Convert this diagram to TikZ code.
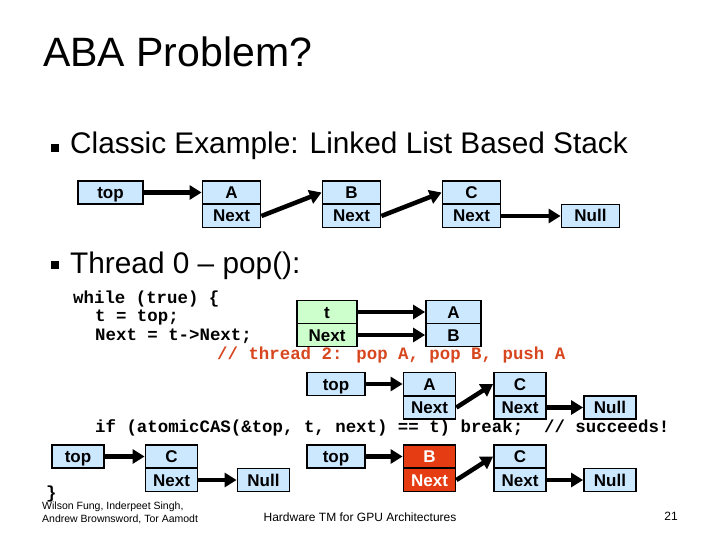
\documentclass[tikz,border=0pt]{standalone}
\usepackage{fontspec}
\setmainfont{Liberation Sans}
\newfontfamily\codefont{Liberation Mono}
\usetikzlibrary{arrows.meta}
\usetikzlibrary{positioning}
\definecolor{cellblue}{RGB}{204,232,255}
\definecolor{cellgreen}{RGB}{204,255,204}
\definecolor{cellred}{RGB}{230,60,20}
\definecolor{commentred}{RGB}{215,70,30}

\begin{document}
\begin{tikzpicture}[x=1pt,y=-1pt]

	\tikzset{CellStyle/.style = {draw, line width=1.8pt, fill=cellblue,
			minimum width=58pt, minimum height=23pt, inner sep=0pt,
			text height=12pt, text depth=0pt,
			font=\fontsize{17}{17}\selectfont\bfseries}}
	\tikzset{NarrowStyle/.style = {CellStyle, minimum width=52pt}}
	\tikzset{LinkStyle/.style = {line width=4.5pt, -{Triangle[length=12pt,width=14pt]}}}
	\tikzset{CodeStyle/.style = {anchor=west, inner sep=0pt,
			font=\codefont\fontsize{17.4}{17.4}\selectfont\bfseries}}

	\useasboundingbox (0,0) rectangle (720,540);

	% title and bullets
	\node[anchor=west, inner sep=0pt, font=\fontsize{41}{41}\selectfont] (title) at (43,52) {ABA Problem?};
	\fill (51,144) rectangle (59,152);
	\node[anchor=west, inner sep=0pt, font=\fontsize{29.8}{30}\selectfont] (b1) at (70,146) {Classic Example: Linked List Based Stack};
	\fill (51,261) rectangle (59,269);
	\node[anchor=west, inner sep=0pt, font=\fontsize{29.8}{30}\selectfont] (b2) at (70,266) {Thread 0 -- pop():};

	% stack
	\node[CellStyle, minimum width=65pt] (top) at (110.5,192.5) {top};
	\node[CellStyle] (A) at (231.5,192.5) {A};
	\node[CellStyle] (An) at (231.5,216) {Next};
	\node[CellStyle] (B) at (351.5,192.5) {B};
	\node[CellStyle] (Bn) at (351.5,216) {Next};
	\node[CellStyle] (C) at (471.5,192.5) {C};
	\node[CellStyle] (Cn) at (471.5,216) {Next};
	\node[CellStyle] (null) at (590.5,216) {Null};
	\draw[LinkStyle] (top) -- (A);
	\draw[LinkStyle] (An.east) -- (B.west);
	\draw[LinkStyle] (Bn.east) -- (C.west);
	\draw[LinkStyle] (Cn) -- (null);

	% code
	\node[CodeStyle] (l1) at (73,299) {while (true) \{};
	\node[CodeStyle] (l2) at (95,318) {t = top;};
	\node[CodeStyle] (l3) at (95,336) {Next = t->Next;};
	\node[CodeStyle, text=commentred] (l4) at (217,355) {// thread 2: pop A, pop B, push A};
	\node[CodeStyle] (l5) at (95,428) {if (atomicCAS(\&top, t, next) == t) break;\ \ // succeeds!};
	\node[CodeStyle] (l6) at (46,494) {\}};

	% local variables
	\node[CellStyle, fill=cellgreen, minimum width=60pt] (t) at (327,312) {t};
	\node[CellStyle, fill=cellgreen, minimum width=60pt] (tn) at (327,335) {Next};
	\node[CellStyle, minimum width=55pt] (ta) at (453.5,312) {A};
	\node[CellStyle, minimum width=55pt] (tb) at (453.5,335) {B};
	\draw[LinkStyle] (t) -- (ta);
	\draw[LinkStyle] (tn) -- (tb);

	% stack after thread 2
	\node[CellStyle] (top2) at (336,384) {top};
	\node[NarrowStyle] (A2) at (429.5,384) {A};
	\node[NarrowStyle] (A2n) at (429.5,407.5) {Next};
	\node[NarrowStyle] (C2) at (520,384) {C};
	\node[NarrowStyle] (C2n) at (520,407.5) {Next};
	\node[NarrowStyle] (null2) at (610,407.5) {Null};
	\draw[LinkStyle] (top2) -- (A2);
	\draw[LinkStyle] (A2n.east) -- (C2.west);
	\draw[LinkStyle] (C2n) -- (null2);

	% stack thread 0 thinks
	\node[CellStyle, minimum width=52pt] (top3) at (78,456.5) {top};
	\node[NarrowStyle] (C3) at (171.5,456.5) {C};
	\node[NarrowStyle] (C3n) at (171.5,480) {Next};
	\node[NarrowStyle] (null3) at (263.5,480) {Null};
	\draw[LinkStyle] (top3) -- (C3);
	\draw[LinkStyle] (C3n) -- (null3);

	% stack actually
	\node[CellStyle] (top4) at (336,456.5) {top};
	\node[NarrowStyle, fill=cellred, text=white] (B4) at (429.5,456.5) {B};
	\node[NarrowStyle, fill=cellred, text=white] (B4n) at (429.5,480) {Next};
	\node[NarrowStyle] (C4) at (520,456.5) {C};
	\node[NarrowStyle] (C4n) at (520,480) {Next};
	\node[NarrowStyle] (null4) at (610,480) {Null};
	\draw[LinkStyle] (top4) -- (B4);
	\draw[LinkStyle] (B4n.east) -- (C4.west);
	\draw[LinkStyle] (C4n) -- (null4);

	% footer
	\node[anchor=north west, inner sep=0pt, align=left, font=\fontsize{10.5}{13}\selectfont] (auth) at (42,502) {Wilson Fung, Inderpeet Singh,\\Andrew Brownsword, Tor Aamodt};
	\node[font=\fontsize{12}{12}\selectfont] (conf) at (360,517) {Hardware TM for GPU Architectures};
	\node[font=\fontsize{12}{12}\selectfont] (page) at (671,516) {21};
\end{tikzpicture}
\end{document}
